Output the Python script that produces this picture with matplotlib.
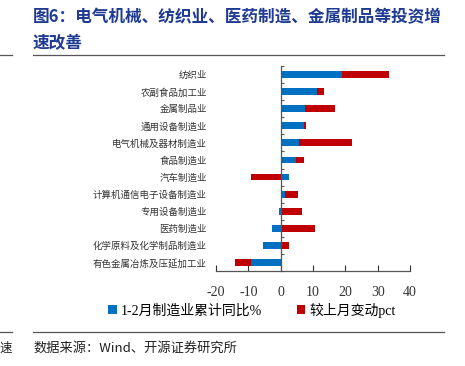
import matplotlib
matplotlib.use("Agg")
import matplotlib.pyplot as plt
import numpy as np

plt.rcParams["font.family"] = ["Noto Sans CJK SC", "DejaVu Sans"]

# top to bottom, as in the reference
industries = [
    "纺织业", "农副食品加工业", "金属制品业", "通用设备制造业",
    "电气机械及器材制造业", "食品制造业", "汽车制造业",
    "计算机通信电子设备制造业", "专用设备制造业", "医药制造业",
    "化学原料及化学制品制造业", "有色金属冶炼及压延加工业",
]
cum_yoy = [18.9, 11.2, 7.5, 7.1, 5.8, 4.7, 2.6, 1.2, -0.5, -2.8, -5.4, -9.2]
mom_change = [14.5, 2.1, 9.2, 0.7, 16.2, 2.5, -9.1, 4.3, 6.6, 10.7, 2.6, -5.0]
x_ticks = [-20, -10, 0, 10, 20, 30, 40]

BLUE = "#0070C0"
RED = "#C00000"
NAVY = "#1F3A93"

fig = plt.figure(figsize=(4.65, 3.66), dpi=100)

# title and rules
fig.text(33 / 465, 1 - 17 / 366, "图6：电气机械、纺织业、医药制造、金属制品等投资增",
         fontsize=12, fontweight="bold", color=NAVY, va="center", ha="left")
fig.text(33 / 465, 1 - 43 / 366, "速改善",
         fontsize=12, fontweight="bold", color=NAVY, va="center", ha="left")
for y in (1 - 55 / 366, 1 - 332 / 366):
    fig.add_artist(plt.Line2D([33 / 465, 444 / 465], [y, y], color="#555555", lw=0.9))
    fig.add_artist(plt.Line2D([0, 12 / 465], [y, y], color="#555555", lw=0.9))
fig.text(0, 1 - 348 / 366, "速", fontsize=9, color="#222222", va="center", ha="left")
fig.text(33 / 465, 1 - 348 / 366, "数据来源：Wind、开源证券研究所",
         fontsize=9.5, color="#222222", va="center", ha="left")

ax = fig.add_axes([216 / 465, 1 - 271 / 366, (410 - 216) / 465, (271 - 66) / 366])

n = len(industries)
ypos = np.arange(n)[::-1]
blue = np.array(cum_yoy)
red = np.array(mom_change)
# excel-style stacking: same-sign segments stack, opposite signs start at 0
red_left = np.where(np.sign(red) == np.sign(blue), blue, 0.0)

h = 0.4
ax.barh(ypos, blue, height=h, color=BLUE, label="1-2月制造业累计同比%")
ax.barh(ypos, red, left=red_left, height=h, color=RED, label="较上月变动pct")

ax.set_xlim(-20, 40)
ax.set_ylim(-0.5, n - 0.5)
ax.set_xticks(x_ticks)
ax.set_xticklabels([str(v) for v in x_ticks], family="Liberation Serif")
ax.tick_params(axis="x", direction="in", length=4, width=0.8, pad=11,
               labelsize=10, colors="#333333")

ax.set_yticks(ypos)
ax.set_yticklabels(industries)
ax.tick_params(axis="y", length=0, pad=53, labelsize=6.8, labelcolor="#333333")
ax.set_yticks(np.arange(n + 1) - 0.5, minor=True)
ax.tick_params(axis="y", which="minor", direction="in", length=2.5, width=0.8,
               colors="#555555")

ax.spines["left"].set_position(("data", 0))
ax.spines["top"].set_visible(False)
ax.spines["right"].set_visible(False)
for s in ("left", "bottom"):
    ax.spines[s].set_color("#555555")
    ax.spines[s].set_linewidth(0.9)

fig.legend(loc="center", bbox_to_anchor=(252 / 465, 1 - 310 / 366), ncol=2,
           frameon=False, handlelength=0.6, handleheight=0.6,
           handletextpad=0.3, columnspacing=2.5,
           prop={"family": ["Liberation Serif", "Noto Sans CJK SC"], "size": 10})

fig.savefig("out.png", dpi=100)
